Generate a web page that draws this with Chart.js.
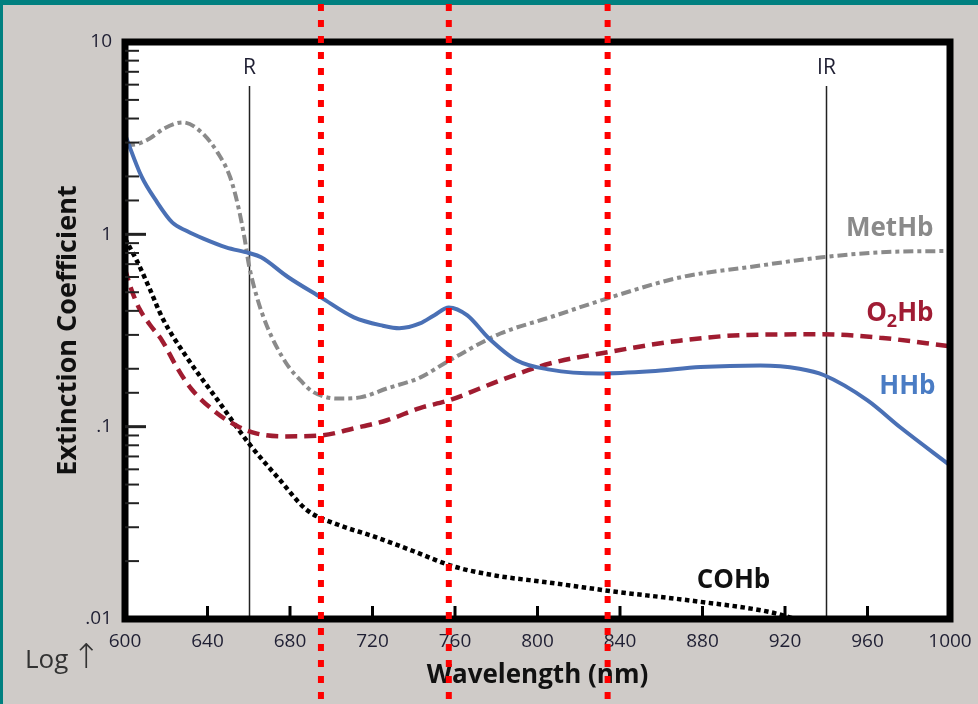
<!DOCTYPE html>
<html>
<head>
<meta charset="utf-8">
<script src="https://cdn.jsdelivr.net/npm/chart.js@4.4.1/dist/chart.umd.min.js"></script>
<style>
  html, body { margin: 0; padding: 0; background: #cfcbc8; }
  canvas { display: block; }
</style>
</head>
<body>
<canvas id="chart" width="978" height="704"></canvas>
<script>
// extinction coefficient vs wavelength (nm)
const hhbNm = [600, 608, 615, 623, 630, 638, 649, 660, 666, 679, 695, 711, 725, 733, 743, 750, 757, 766, 776, 790, 806, 830, 855, 879, 908, 927, 939, 960, 976, 1000];
const hhbValues = [3.3, 2.0, 1.5, 1.15, 1.04, 0.95, 0.856, 0.80, 0.76, 0.60, 0.47, 0.37, 0.335, 0.325, 0.344, 0.38, 0.417, 0.379, 0.291, 0.221, 0.198, 0.189, 0.194, 0.204, 0.208, 0.20, 0.185, 0.137, 0.099, 0.063];

const methbNm = [600, 606, 612, 619, 628, 637, 645, 651, 655, 658, 660, 664, 669, 678, 686, 691, 703, 714, 727, 743, 757, 782, 806, 834, 870, 902, 938, 966, 1000];
const methbValues = [2.9, 2.95, 3.15, 3.55, 3.82, 3.4, 2.65, 1.98, 1.38, 0.95, 0.70, 0.47, 0.33, 0.215, 0.17, 0.152, 0.14, 0.142, 0.158, 0.18, 0.22, 0.305, 0.37, 0.465, 0.60, 0.674, 0.76, 0.806, 0.82];

const o2hbNm = [600, 603, 607, 612, 618, 625, 632, 644, 655, 664, 677, 695, 711, 727, 743, 757, 782, 806, 834, 869, 902, 938, 966, 1000];
const o2hbValues = [0.66, 0.52, 0.41, 0.34, 0.28, 0.205, 0.158, 0.119, 0.10, 0.092, 0.089, 0.090, 0.098, 0.108, 0.125, 0.137, 0.174, 0.213, 0.244, 0.28, 0.30, 0.302, 0.29, 0.262];

const cohbNm = [600, 606, 612, 618, 630, 645, 660, 675, 688, 703, 720, 740, 759, 780, 805, 837, 876, 912, 928];
const cohbValues = [0.95, 0.72, 0.52, 0.37, 0.229, 0.137, 0.082, 0.053, 0.037, 0.031, 0.027, 0.0225, 0.0188, 0.0168, 0.0155, 0.0139, 0.0124, 0.0109, 0.0098];

const markerNm = [695, 757, 834];        // red dotted guides
const sourceNm = [660, 940];             // R / IR emitter lines
const sourceLabels = ['R', 'IR'];
const yLabelValues = [0.01, 0.1, 1, 10];
const yLabelTexts = ['.01', '.1', '1', '10'];

const FONT = 'Open Sans';
const tickColor = '#1f1f33';

function toPoints(xs, ys) {
  return xs.map((x, i) => ({x: x, y: ys[i]}));
}

// curve captions, placed in data coordinates
const captions = [
  {text: 'MetHb', nm: 992, value: 1.07, color: '#8a8a8a', align: 'right'},
  {text: 'O|2|Hb', nm: 992, value: 0.388, color: '#a01c34', align: 'right'},
  {text: 'HHb', nm: 993, value: 0.162, color: '#4a7cc4', align: 'right'},
  {text: 'COHb', nm: 895, value: 0.0159, color: '#111111', align: 'center'}
];

const decor = {
  id: 'decor',
  beforeDraw(chart) {
    const {ctx, chartArea: a, width, height} = chart;
    ctx.save();
    ctx.fillStyle = '#cfcbc8';
    ctx.fillRect(0, 0, width, height);
    ctx.fillStyle = '#008080';
    ctx.fillRect(0, 0, width, 5);
    ctx.fillRect(0, 0, 3, height);
    ctx.fillStyle = '#ffffff';
    ctx.fillRect(a.left, a.top, a.right - a.left, a.bottom - a.top);
    ctx.restore();
  },
  beforeDatasetsDraw(chart) {
    const {ctx, chartArea: a, scales: {x}} = chart;
    ctx.save();
    ctx.strokeStyle = '#222';
    ctx.lineWidth = 1.5;
    ctx.fillStyle = tickColor;
    ctx.font = '21px "' + FONT + '"';
    ctx.textAlign = 'center';
    ctx.textBaseline = 'middle';
    sourceNm.forEach((nm, i) => {
      const px = Math.round(x.getPixelForValue(nm)) + 0.5;
      ctx.beginPath();
      ctx.moveTo(px, 86);
      ctx.lineTo(px, a.bottom);
      ctx.stroke();
      ctx.fillText(sourceLabels[i], px, 68);
    });
    ctx.restore();
  },
  afterDatasetsDraw(chart) {
    const {ctx, chartArea: a, scales: {x, y}} = chart;
    ctx.save();
    // frame
    ctx.strokeStyle = '#000';
    ctx.lineWidth = 7;
    ctx.strokeRect(a.left, a.top, a.right - a.left, a.bottom - a.top);
    // inner ticks
    ctx.lineWidth = 3;
    x.ticks.forEach(t => {
      if (t.value <= x.min || t.value >= x.max) return;
      const px = x.getPixelForValue(t.value);
      ctx.beginPath();
      ctx.moveTo(px, a.bottom);
      ctx.lineTo(px, a.bottom - 13);
      ctx.stroke();
    });
    ctx.strokeStyle = '#222';
    y.ticks.forEach(t => {
      if (t.value <= y.min * 1.001 || t.value >= y.max * 0.999) return;
      const lg = Math.log10(t.value);
      const major = Math.abs(lg - Math.round(lg)) < 1e-6;
      const py = y.getPixelForValue(t.value);
      ctx.lineWidth = major ? 3 : 2;
      ctx.beginPath();
      ctx.moveTo(a.left, py);
      ctx.lineTo(a.left + (major ? 21 : 14), py);
      ctx.stroke();
    });
    // captions
    ctx.textBaseline = 'middle';
    captions.forEach(c => {
      const px = x.getPixelForValue(c.nm);
      const py = y.getPixelForValue(c.value);
      ctx.fillStyle = c.color;
      const parts = c.text.split('|');
      const big = 'bold 26px "' + FONT + '"';
      const small = 'bold 18px "' + FONT + '"';
      let total = 0;
      const widths = parts.map((p, i) => {
        ctx.font = i === 1 ? small : big;
        const w = ctx.measureText(p).width;
        total += w;
        return w;
      });
      let cx = c.align === 'right' ? px - total : px - total / 2;
      ctx.textAlign = 'left';
      parts.forEach((p, i) => {
        ctx.font = i === 1 ? small : big;
        ctx.fillText(p, cx, i === 1 ? py + 8 : py);
        cx += widths[i];
      });
    });
    // log note
    ctx.fillStyle = '#333';
    ctx.font = '26px "' + FONT + '"';
    ctx.textAlign = 'left';
    ctx.textBaseline = 'alphabetic';
    ctx.fillText('Log', 25, 668);
    ctx.font = '200 34px "DejaVu Sans"';
    ctx.fillText('\u2191', 72, 668);
    ctx.restore();
  },
  afterDraw(chart) {
    const {ctx, height, scales: {x}} = chart;
    ctx.save();
    ctx.strokeStyle = '#ff0000';
    ctx.lineWidth = 6;
    ctx.setLineDash([7, 9]);
    markerNm.forEach(nm => {
      const px = x.getPixelForValue(nm);
      ctx.beginPath();
      ctx.moveTo(px, 4);
      ctx.lineTo(px, height);
      ctx.stroke();
    });
    ctx.restore();
  }
};

const common = {pointRadius: 0, fill: false, cubicInterpolationMode: 'monotone', borderCapStyle: 'butt'};

new Chart(document.getElementById('chart'), {
  type: 'line',
  data: {
    datasets: [
      Object.assign({label: 'HHb', data: toPoints(hhbNm, hhbValues), borderColor: '#4a70b5', borderWidth: 4}, common),
      Object.assign({label: 'O2Hb', data: toPoints(o2hbNm, o2hbValues), borderColor: '#a01c30', borderWidth: 4.5, borderDash: [12, 7]}, common),
      Object.assign({label: 'MetHb', data: toPoints(methbNm, methbValues), borderColor: '#8a8a8a', borderWidth: 4, borderDash: [10, 4, 4, 4]}, common),
      Object.assign({label: 'COHb', data: toPoints(cohbNm, cohbValues), borderColor: '#000000', borderWidth: 4.5, borderDash: [4.5, 3.5]}, common)
    ]
  },
  options: {
    responsive: false,
    animation: false,
    devicePixelRatio: 1,
    layout: {padding: {top: 42, right: 28, left: 0, bottom: 0}},
    plugins: {legend: {display: false}, tooltip: {enabled: false}},
    scales: {
      x: {
        type: 'linear', min: 600, max: 1000,
        afterFit: s => { s.height = 85; },
        // hidden tick marks still push the labels down without widening the right padding
        grid: {display: false, drawTicks: true, tickLength: 5},
        border: {display: false},
        ticks: {stepSize: 40, padding: 6, color: tickColor, font: {family: FONT, size: 19},
          callback: v => String(v)},
        title: {display: true, text: 'Wavelength (nm)', color: '#111',
          font: {family: FONT, size: 26, weight: 'bold'}, padding: {top: 0, bottom: 13}}
      },
      y: {
        type: 'logarithmic', min: 0.01, max: 10,
        afterFit: s => { s.width = 125; },
        grid: {display: false, drawTicks: false},
        border: {display: false},
        ticks: {
          autoSkip: false, padding: 13, color: tickColor, font: {family: FONT, size: 19},
          callback: v => {
            const i = yLabelValues.findIndex(l => Math.abs(l - v) < l * 1e-6);
            return i >= 0 ? yLabelTexts[i] : '';
          }
        },
        title: {display: true, text: 'Extinction Coefficient', color: '#111',
          font: {family: FONT, size: 27, weight: 'bold'}, padding: {top: 52, bottom: 0}}
      }
    }
  },
  plugins: [decor]
});
</script>
</body>
</html>
